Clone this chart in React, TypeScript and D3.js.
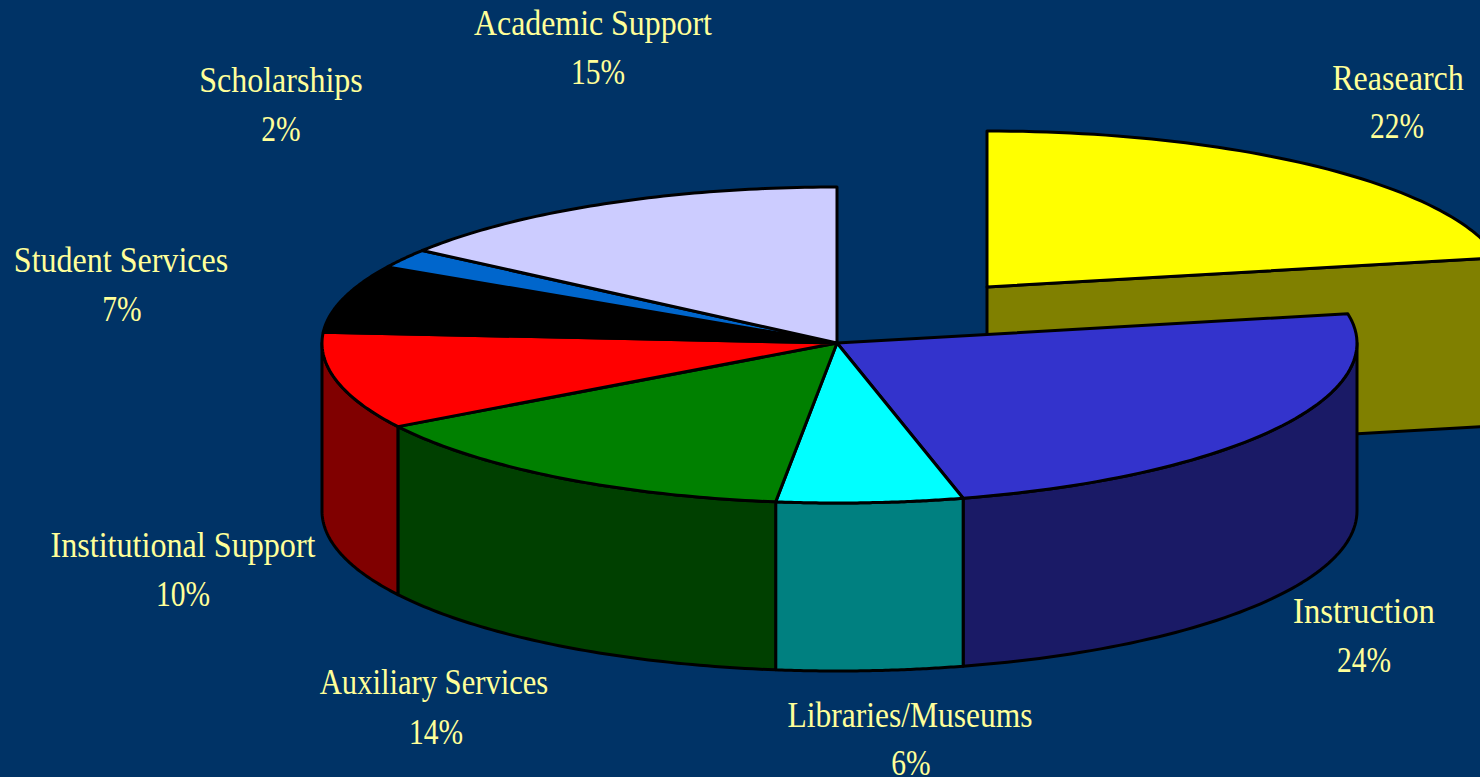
import React from "react";
import * as d3 from "d3";

const categories = ["Reasearch", "Instruction", "Libraries/Museums", "Auxiliary Services", "Institutional Support", "Student Services", "Scholarships", "Academic Support"];
const values = [22, 24, 6, 14, 10, 7, 2, 15];
const shares = [22, 24.1, 5.8, 14.35, 9.85, 7, 2, 14.9];
const topColors = ["#FFFF00", "#3333CC", "#00FFFF", "#008000", "#FF0000", "#000000", "#0066CC", "#CCCCFF"];
const sideColors = ["#808000", "#1A1A66", "#008080", "#004000", "#800000", "#000000", "#003366", "#666680"];
const labelX = [1398, 1364, 910, 434, 183, 121, 281, 593];
const labelNameY = [90, 623, 727, 694, 557, 272, 92, 35];
const labelPctX = [1397, 1364, 911, 436, 183, 122, 281, 598];
const labelPctY = [138, 672, 775, 744, 606, 321, 141, 84];
const nameScales = [0.89, 0.91, 0.876, 0.85, 0.893, 0.89, 0.89, 0.885];

const WIDTH = 1480, HEIGHT = 777;
const CX = 837, CY = 343, DEPTH = 168;
const EXPLODE_DX = 150, EXPLODE_DY = -56;
const FS = 36;
const PCT_SCALE = 0.82;

const pie = d3.pie<number>().sort(null).value((d) => d);
const arcs = pie(shares);
const sx = d3.scaleLinear().domain([-1, 0, 1]).range([-515, 0, 520]);
const sy = d3.scaleLinear().domain([-1, 0, 1]).range([-156, 0, 160]);
const rim = (a: number): [number, number] => [sx(Math.sin(a)), sy(-Math.cos(a))];
const sweep = (s: number, e: number) => d3.range(61).map((i) => rim(s + ((e - s) * i) / 60));

function topPath(a0: number, a1: number) {
  return d3.line()([[0, 0], ...sweep(a0, a1)]) + "Z";
}

function sidePath(a0: number, a1: number) {
  const s = Math.max(a0, Math.PI / 2), e = Math.min(a1, (3 * Math.PI) / 2);
  if (e <= s) return null;
  const top = sweep(s, e);
  const bottom = top.map(([x, y]) => [x, y + DEPTH] as [number, number]).reverse();
  return d3.line()([...top, ...bottom]) + "Z";
}

function cutFace(a: number) {
  const [x, y] = rim(a);
  return d3.line()([[0, 0], [x, y], [x, y + DEPTH], [0, DEPTH]]) + "Z";
}

export default function App() {
  const stroke = { stroke: "#000", strokeWidth: 3, strokeLinejoin: "round" as const };
  const research = arcs[0];
  return (
    <svg width={WIDTH} height={HEIGHT} viewBox={`0 0 ${WIDTH} ${HEIGHT}`}
      style={{ position: "absolute", left: 0, top: 0, background: "#003366", display: "block" }}>
      <g transform={`translate(${CX + EXPLODE_DX},${CY + EXPLODE_DY})`}>
        <path d={cutFace(research.endAngle)} fill={sideColors[0]} {...stroke} />
        <path d={topPath(research.startAngle, research.endAngle)} fill={topColors[0]} {...stroke} />
      </g>
      <g transform={`translate(${CX},${CY})`}>
        {arcs.slice(1).map((d, i) => {
          const p = sidePath(d.startAngle, d.endAngle);
          return p ? <path key={i} d={p} fill={sideColors[i + 1]} {...stroke} /> : null;
        })}
        {arcs.slice(1).map((d, i) => (
          <path key={i} d={topPath(d.startAngle, d.endAngle)} fill={topColors[i + 1]} {...stroke} />
        ))}
      </g>
      <g fontFamily="'Liberation Serif', serif" fontSize={FS} fill="#FFFF99" textAnchor="middle">
        {categories.map((c, i) => (
          <g key={c}>
            <text transform={`translate(${labelX[i]},${labelNameY[i]}) scale(${nameScales[i]},1)`}>{c}</text>
            <text transform={`translate(${labelPctX[i]},${labelPctY[i]}) scale(${PCT_SCALE},1)`}>{values[i]}%</text>
          </g>
        ))}
      </g>
    </svg>
  );
}
